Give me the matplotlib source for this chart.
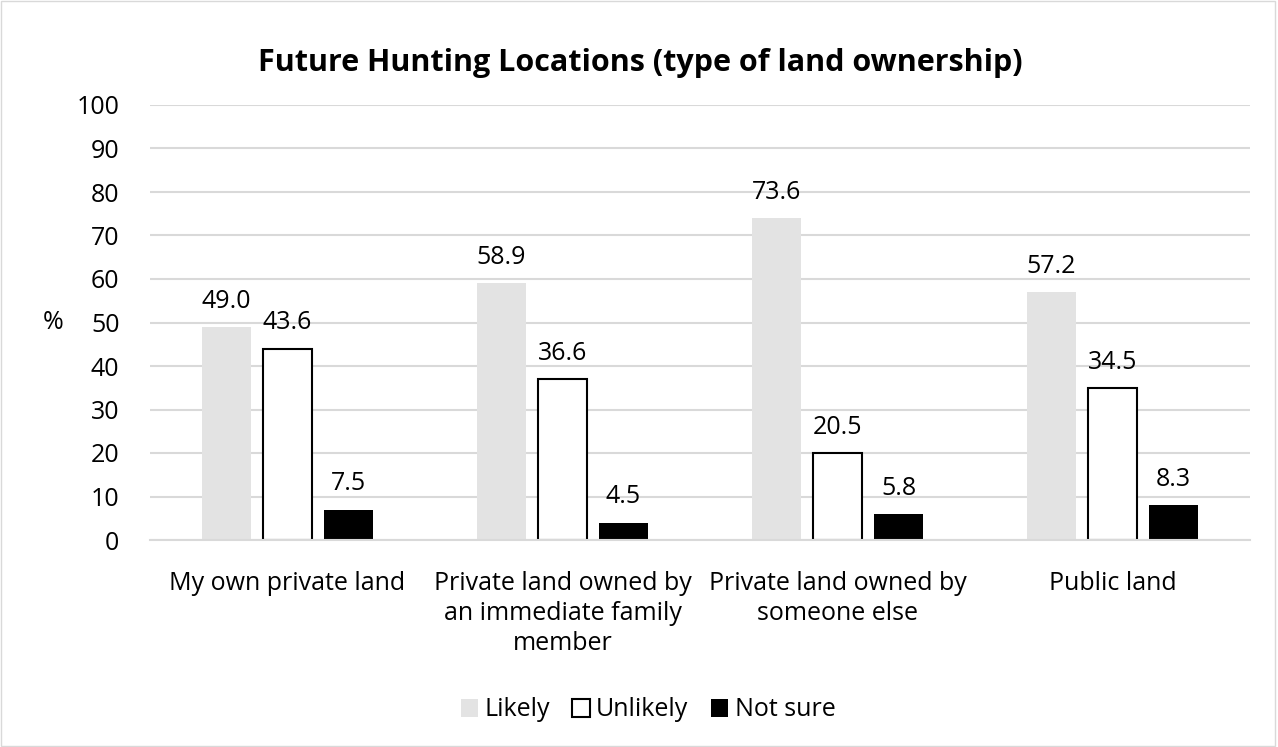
import matplotlib
matplotlib.use("Agg")
import matplotlib.pyplot as plt
import numpy as np
from matplotlib.patches import Rectangle

categories = ["My own private land",
              "Private land owned by\nan immediate family\nmember",
              "Private land owned by\nsomeone else",
              "Public land"]
series_names = ["Likely", "Unlikely", "Not sure"]
# bar heights as drawn in the reference
likely_bars = [49, 59, 74, 57]
unlikely_bars = [44, 37, 20, 35]
notsure_bars = [7, 4, 6, 8]
# data labels as printed in the reference
likely_labels = ["49.0", "58.9", "73.6", "57.2"]
unlikely_labels = ["43.6", "36.6", "20.5", "34.5"]
notsure_labels = ["7.5", "4.5", "5.8", "8.3"]
yticks = [0, 10, 20, 30, 40, 50, 60, 70, 80, 90, 100]

plt.rcParams['font.family'] = ['Open Sans', 'DejaVu Sans']
FS = 18

fig = plt.figure(figsize=(12.78, 7.47), dpi=100)
ax = fig.add_axes([150/1278, 1-540/747, 1100/1278, 435/747])

x = np.arange(len(categories))
w = 0.175
off = 0.222
styles = [dict(color="#e3e3e3", edgecolor="none", linewidth=0),
          dict(color="white", edgecolor="black", linewidth=1.5),
          dict(color="black", edgecolor="black", linewidth=0)]
bars_all = [likely_bars, unlikely_bars, notsure_bars]
labels_all = [likely_labels, unlikely_labels, notsure_labels]
for i, (vals, labs, st, name) in enumerate(zip(bars_all, labels_all, styles, series_names)):
    pos = x + (i - 1) * off
    ax.bar(pos, vals, width=w, label=name, zorder=3, **st)
    for p, v, l in zip(pos, vals, labs):
        ax.text(p, v + 4.4, l, ha="center", va="baseline", fontsize=FS, color="#000000")

ax.set_xlim(-0.5, len(categories) - 0.5)
ax.set_ylim(0, 100)
ax.set_yticks(yticks)
ax.set_yticklabels([str(t) for t in yticks], fontsize=FS)
ax.set_xticks(x)
ax.set_xticklabels(categories, fontsize=FS, linespacing=1.28, va="top")
ax.tick_params(axis="both", length=0)
ax.tick_params(axis="y", pad=22)
ax.tick_params(axis="x", pad=22)
ax.grid(axis="y", color="#d9d9d9", linewidth=1.5, zorder=0)
for s in ["top", "right", "left"]:
    ax.spines[s].set_visible(False)
ax.spines["bottom"].set_color("#d9d9d9")
ax.spines["bottom"].set_linewidth(1.5)
ax.spines["bottom"].set_zorder(4)

ax.set_ylabel("%", rotation=0, fontsize=FS, labelpad=17, va="center")

fig.text(640/1278, 1-63/747, "Future Hunting Locations (type of land ownership)",
         ha="center", va="center", fontsize=22, fontweight="bold")

leg = fig.legend(loc="center", bbox_to_anchor=(648/1278, 1-710/747), ncol=3,
                 frameon=False, fontsize=FS, handlelength=0.7, handleheight=0.7,
                 handletextpad=0.25, columnspacing=0.9)

fig.patches.append(Rectangle((0.001, 0.001), 0.997, 0.997, transform=fig.transFigure,
                             fill=False, edgecolor="#d9d9d9", linewidth=1))

fig.savefig("out.png", dpi=100)
